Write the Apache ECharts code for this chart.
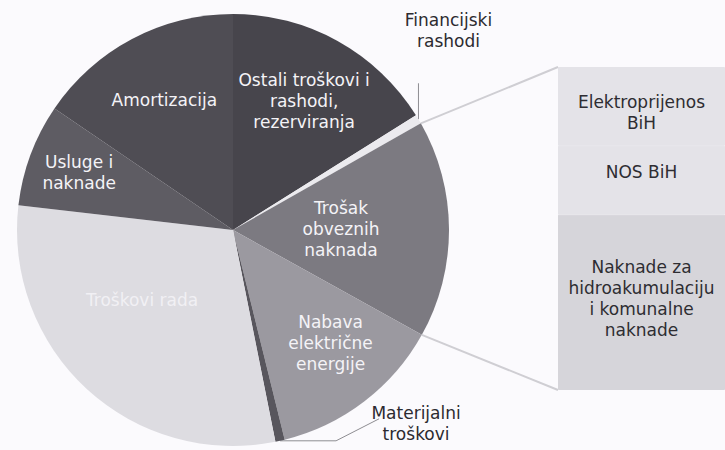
<!DOCTYPE html>
<html>
<head>
<meta charset="utf-8">
<script src="https://cdn.jsdelivr.net/npm/echarts@6/dist/echarts.min.js"></script>
<style>
html,body{margin:0;padding:0;background:#fbfafd;}
#c{width:725px;height:450px;}
</style>
</head>
<body>
<div id="c"></div>
<script>
// ---- data (percent of total costs) ----
const pieCategories = ['Ostali troškovi i rashodi, rezerviranja', 'Financijski rashodi', 'Trošak obveznih naknada', 'Nabava električne energije', 'Materijalni troškovi', 'Troškovi rada', 'Usluge i naknade', 'Amortizacija'];
const pieLabels = ['Ostali troškovi i\nrashodi,\nrezerviranja', 'Financijski\nrashodi', 'Trošak\nobveznih\nnaknada', 'Nabava\nelektrične\nenergije', 'Materijalni\ntroškovi', 'Troškovi rada', 'Usluge i\nnaknade', 'Amortizacija'];
const pieValues = [16.1, 0.7, 16.3, 13.1, 0.7, 30.0, 7.7, 15.5];
const brokenOutIndex = 2; // 'Trošak obveznih naknada' is split into the bar
const barCategories = ['Naknade za hidroakumulaciju i komunalne naknade', 'NOS BiH', 'Elektroprijenos BiH'];
const barLabels = ['Naknade za\nhidroakumulaciju\ni komunalne\nnaknade', 'NOS BiH', 'Elektroprijenos\nBiH'];
const barValues = [8.9, 3.5, 4.0];

// ---- styles ----
const FONT = 'DejaVu Sans';
const PIE_CENTER = [233, 230];
const PIE_R = 216;
const pieColors = ['#47454c', '#ebeaee', '#7c7a81', '#9b99a0', '#58565d', '#dddce1', '#5e5c63', '#4f4d54'];
const barColors = ['#d6d5da', '#e4e3e8', '#e4e3e8'];
const barLabelOffsets = [[0, -4], [0, -8], [0, 6]];
// inside labels: [radius fraction, angle shift in degrees]
const insidePlacement = {0: [0.68, 0], 2: [0.5, 0], 3: [0.69, -3.5], 5: [0.53, 10], 6: [0.76, 0], 7: [0.68, 0]};
// outside labels: offset of label centre from slice edge, leader line relative to edge
const outsidePlacement = {
  1: {dx: 30, dy: -89, line: [[0, 0], [0, -36]]},
  4: {dx: 136, dy: -17, line: [[0, 0], [56, 0], [99, -22]]}
};

const total = pieValues.reduce((a, b) => a + b, 0);
const cum = [];
{ let s = 0; for (const v of pieValues) { cum.push(s); s += v; } }
function angleOf(frac) { return frac * 360; } // degrees clockwise from 12 o'clock
function pointAt(deg, r) {
  const a = deg * Math.PI / 180;
  return [PIE_CENTER[0] + r * Math.sin(a), PIE_CENTER[1] - r * Math.cos(a)];
}
function midAngle(i) { return angleOf((cum[i] + pieValues[i] / 2) / total); }

const pieData = pieValues.map((v, i) => {
  const item = {name: pieCategories[i], value: v, itemStyle: {color: pieColors[i]}};
  if (outsidePlacement[i]) {
    item.label = {position: 'outside', color: '#2c2b30'};
    item.labelLine = {show: true, lineStyle: {color: '#8e8d92', width: 1}};
  } else {
    item.label = {position: 'inside', color: i === 5 ? '#f1f0f4' : '#f4f3f7'};
    item.labelLine = {show: false};
  }
  return item;
});

const chart = echarts.init(document.getElementById('c'), null, {renderer: 'svg'});

const option = {
  backgroundColor: '#fbfafd',
  animation: false,
  grid: {left: 558, top: 67, right: 0, bottom: 60},
  xAxis: {type: 'category', data: ['Trošak obveznih naknada'], show: false},
  yAxis: {type: 'value', min: 0, max: barValues.reduce((a, b) => a + b, 0), show: false},
  series: [
    {
      type: 'pie',
      center: PIE_CENTER,
      radius: [0, PIE_R],
      startAngle: 90,
      clockwise: true,
      avoidLabelOverlap: false,
      minAngle: 0,
      data: pieData,
      itemStyle: {borderWidth: 0},
      label: {
        show: true,
        formatter: p => pieLabels[p.dataIndex],
        fontFamily: FONT, fontSize: 17, lineHeight: 21, align: 'center'
      },
      labelLayout: function (params) {
        const i = params.dataIndex;
        if (outsidePlacement[i]) {
          const o = outsidePlacement[i];
          const e = pointAt(midAngle(i), PIE_R);
          return {
            x: e[0] + o.dx, y: e[1] + o.dy, align: 'center', verticalAlign: 'middle',
            labelLinePoints: o.line.map(p => [e[0] + p[0], e[1] + p[1]])
          };
        }
        const pl = insidePlacement[i];
        const p = pointAt(midAngle(i) + pl[1], PIE_R * pl[0]);
        return {x: p[0], y: p[1], align: 'center', verticalAlign: 'middle'};
      }
    }
  ].concat(barValues.map((v, i) => ({
    type: 'bar',
    name: barCategories[i],
    stack: 'split',
    barWidth: '100%',
    data: [v],
    itemStyle: {color: barColors[i], borderColor: barColors[i], borderWidth: 1},
    label: {
      show: true, position: 'inside', formatter: barLabels[i],
      color: '#2e2d32', fontFamily: FONT, fontSize: 17, lineHeight: 21,
      offset: barLabelOffsets[i]
    }
  })))
};
chart.setOption(option);

// connector lines from the broken-out slice to the bar
const a0 = angleOf(cum[brokenOutIndex] / total);
const a1 = angleOf((cum[brokenOutIndex] + pieValues[brokenOutIndex]) / total);
const pTop = pointAt(a0, PIE_R);
const pBot = pointAt(a1, PIE_R);
const barSum = barValues.reduce((a, b) => a + b, 0);
const gridRect = chart.getModel().getComponent('grid').coordinateSystem.getRect();
const barTopY = chart.convertToPixel({yAxisIndex: 0}, barSum);
const barBotY = chart.convertToPixel({yAxisIndex: 0}, 0);
chart.setOption({
  graphic: [
    {type: 'line', shape: {x1: pTop[0], y1: pTop[1], x2: gridRect.x, y2: barTopY}, style: {stroke: '#cfced3', lineWidth: 2}, z: 10},
    {type: 'line', shape: {x1: pBot[0], y1: pBot[1], x2: gridRect.x, y2: barBotY}, style: {stroke: '#cfced3', lineWidth: 2}, z: 10}
  ]
});
</script>
</body>
</html>
